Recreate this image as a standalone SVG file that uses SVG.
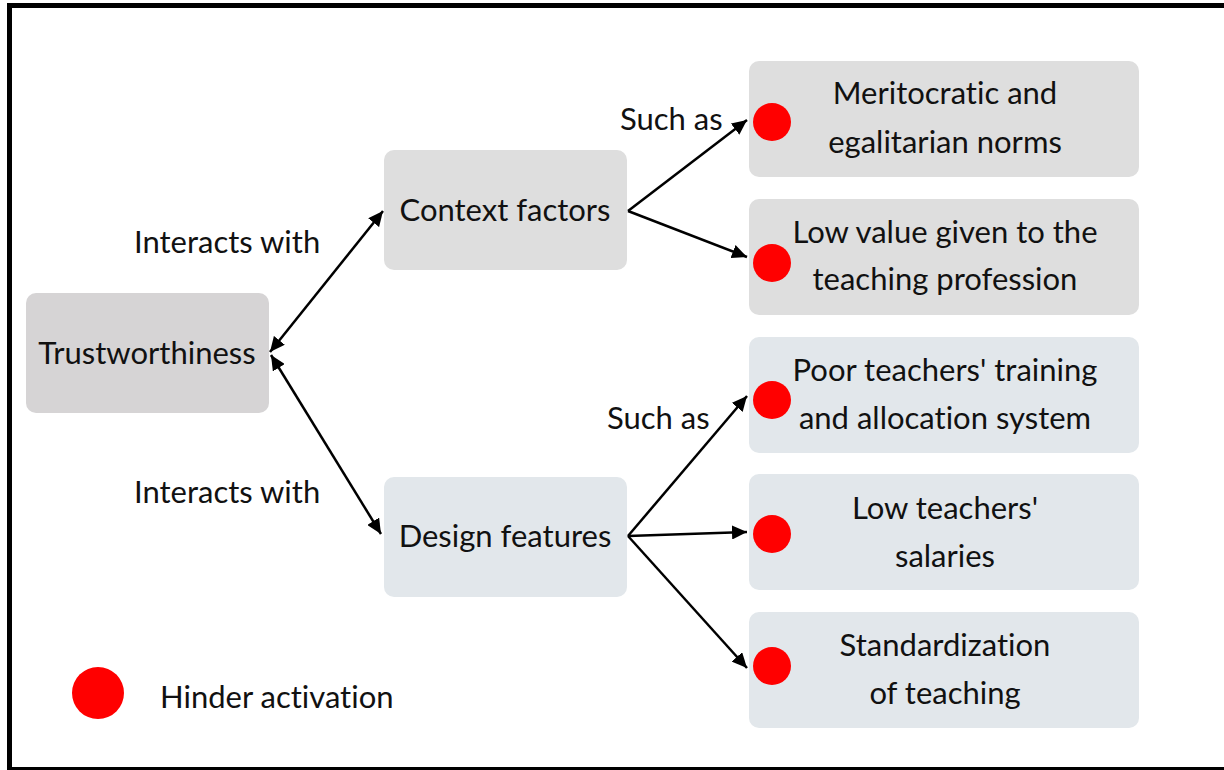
<svg xmlns="http://www.w3.org/2000/svg" width="1224" height="770" viewBox="0 0 1224 770">
  <style>
    text { font-family: Lato, "Liberation Sans", sans-serif; font-size: 31px; fill: #111; font-variant-ligatures: none; }
    .mid { text-anchor: middle; }
    .warm { fill: #d6d4d5; }
    .grey { fill: #dedede; }
    .blue { fill: #e2e7eb; }
    .dot { fill: #ff0000; }
    .link { stroke: #000; stroke-width: 2.5; fill: none; }
  </style>
  <defs>
    <marker id="head" markerUnits="userSpaceOnUse" markerWidth="16" markerHeight="14" refX="15" refY="7" orient="auto-start-reverse">
      <path d="M0,0 L15,7 L0,14 Z" fill="#000"/>
    </marker>
  </defs>

  <!-- outer frame -->
  <rect x="0" y="0" width="1224" height="770" fill="#fff"/>
  <rect x="9.5" y="5.5" width="1240" height="764" fill="none" stroke="#000" stroke-width="5"/>

  <!-- connectors -->
  <g id="connectors">
    <line class="link" x1="270" y1="352" x2="383" y2="211" marker-start="url(#head)" marker-end="url(#head)"/>
    <line class="link" x1="271" y1="355" x2="381" y2="534" marker-start="url(#head)" marker-end="url(#head)"/>
    <line class="link" x1="628" y1="211" x2="747" y2="120" marker-end="url(#head)"/>
    <line class="link" x1="628" y1="211" x2="747" y2="257" marker-end="url(#head)"/>
    <line class="link" x1="628" y1="536" x2="747" y2="396" marker-end="url(#head)"/>
    <line class="link" x1="628" y1="536" x2="747" y2="532" marker-end="url(#head)"/>
    <line class="link" x1="628" y1="536" x2="747" y2="668" marker-end="url(#head)"/>
  </g>

  <!-- edge labels -->
  <g id="labels">
    <text x="134" y="253">Interacts with</text>
    <text x="134" y="503">Interacts with</text>
    <text x="620" y="130">Such as</text>
    <text x="607" y="429">Such as</text>
  </g>

  <g id="trustworthiness">
    <rect class="warm" x="26" y="293" width="243" height="120" rx="10"/>
    <text class="mid" x="147" y="364">Trustworthiness</text>
  </g>

  <g id="context-factors">
    <rect class="grey" x="384" y="150" width="243" height="120" rx="10"/>
    <text class="mid" x="505" y="221">Context factors</text>
  </g>

  <g id="design-features">
    <rect class="blue" x="384" y="477" width="243" height="120" rx="10"/>
    <text class="mid" x="505" y="547">Design features</text>
  </g>

  <g id="meritocratic-norms">
    <rect class="grey" x="749" y="61" width="390" height="116" rx="10"/>
    <circle class="dot" cx="772" cy="122" r="19"/>
    <text class="mid" x="945" y="104">Meritocratic and</text>
    <text class="mid" x="945" y="153">egalitarian norms</text>
  </g>

  <g id="low-value">
    <rect class="grey" x="749" y="199" width="390" height="116" rx="10"/>
    <circle class="dot" cx="772" cy="263" r="19"/>
    <text class="mid" x="945" y="243">Low value given to the</text>
    <text class="mid" x="945" y="290">teaching profession</text>
  </g>

  <g id="training-allocation">
    <rect class="blue" x="749" y="337" width="390" height="116" rx="10"/>
    <circle class="dot" cx="772" cy="400" r="19"/>
    <text class="mid" x="945" y="381">Poor teachers' training</text>
    <text class="mid" x="945" y="429">and allocation system</text>
  </g>

  <g id="low-salaries">
    <rect class="blue" x="749" y="474" width="390" height="116" rx="10"/>
    <circle class="dot" cx="772" cy="534" r="19"/>
    <text class="mid" x="945" y="519">Low teachers'</text>
    <text class="mid" x="945" y="567">salaries</text>
  </g>

  <g id="standardization">
    <rect class="blue" x="749" y="612" width="390" height="116" rx="10"/>
    <circle class="dot" cx="772" cy="666" r="19"/>
    <text class="mid" x="945" y="656">Standardization</text>
    <text class="mid" x="945" y="704">of teaching</text>
  </g>

  <g id="legend">
    <circle class="dot" cx="98" cy="693" r="26"/>
    <text x="160" y="708">Hinder activation</text>
  </g>
</svg>
